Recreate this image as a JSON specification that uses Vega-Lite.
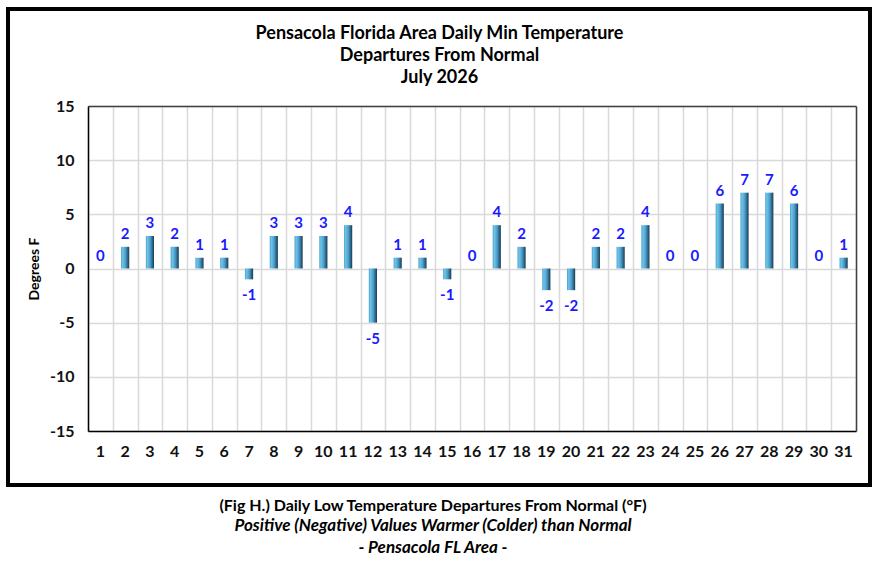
{
  "$schema": "https://vega.github.io/schema/vega-lite/v6.json",
  "description": "Pensacola daily min temperature departures, July 2026",
  "width": 862,
  "height": 476,
  "autosize": {"type": "none"},
  "padding": {"left": 8, "top": 9, "right": 11, "bottom": 80},
  "background": "white",

  "title": {
    "text": "(Fig H.) Daily Low Temperature Departures From Normal (°F)",
    "subtitle": ["Positive (Negative) Values Warmer (Colder) than Normal", "- Pensacola FL Area -"],
    "orient": "bottom",
    "anchor": "middle",
    "frame": "group",
    "offset": 13,
    "dx": -6,
    "font": "Lato",
    "fontSize": 16,
    "fontWeight": "bold",
    "color": "black",
    "subtitleFont": "Lato",
    "subtitleFontSize": 17,
    "subtitleFontWeight": "bold",
    "subtitleFontStyle": "italic",
    "subtitleColor": "black",
    "subtitlePadding": 4,
    "subtitleLineHeight": 22
  },

  "config": {
    "font": "Lato",
    "view": {"stroke": "black", "strokeWidth": 4},
    "axis": {
      "labelFont": "Lato",
      "labelFontSize": 16,
      "labelFontWeight": "bold",
      "labelColor": "#111111",
      "titleFont": "Lato",
      "titleColor": "black"
    }
  },

  "data": {
    "values": [
      {"day": 1, "value": 0}, {"day": 2, "value": 2}, {"day": 3, "value": 3},
      {"day": 4, "value": 2}, {"day": 5, "value": 1}, {"day": 6, "value": 1},
      {"day": 7, "value": -1}, {"day": 8, "value": 3}, {"day": 9, "value": 3},
      {"day": 10, "value": 3}, {"day": 11, "value": 4}, {"day": 12, "value": -5},
      {"day": 13, "value": 1}, {"day": 14, "value": 1}, {"day": 15, "value": -1},
      {"day": 16, "value": 0}, {"day": 17, "value": 4}, {"day": 18, "value": 2},
      {"day": 19, "value": -2}, {"day": 20, "value": -2}, {"day": 21, "value": 2},
      {"day": 22, "value": 2}, {"day": 23, "value": 4}, {"day": 24, "value": 0},
      {"day": 25, "value": 0}, {"day": 26, "value": 6}, {"day": 27, "value": 7},
      {"day": 28, "value": 7}, {"day": 29, "value": 6}, {"day": 30, "value": 0},
      {"day": 31, "value": 1}
    ]
  },

  "resolve": {"axis": {"x": "independent", "y": "independent"}},

  "layer": [
    {
      "mark": {
        "type": "bar",
        "width": {"band": 0.33},
        "color": {
          "gradient": "linear",
          "x1": 0, "x2": 1, "y1": 0, "y2": 0,
          "stops": [
            {"offset": 0, "color": "#4f9fc8"},
            {"offset": 0.2, "color": "#6ec4e8"},
            {"offset": 0.55, "color": "#4a9ccb"},
            {"offset": 0.8, "color": "#2b6688"},
            {"offset": 1, "color": "#1b3b50"}
          ]
        }
      },
      "encoding": {
        "x": {
          "field": "day",
          "type": "ordinal",
          "scale": {"range": [80, 848], "paddingInner": 0, "paddingOuter": 0},
          "axis": {
            "orient": "bottom",
            "offset": -54,
            "title": null,
            "grid": false,
            "ticks": false,
            "labelAngle": 0,
            "labelPadding": 12,
            "domainColor": "black",
            "domainWidth": 1.5
          }
        },
        "y": {
          "field": "value",
          "type": "quantitative",
          "scale": {"domain": [-15, 15], "range": [422, 97], "nice": false},
          "axis": {
            "orient": "left",
            "offset": -80,
            "values": [-15, -10, -5, 0, 5, 10, 15],
            "labelExpr": "'' + datum.value",
            "grid": true,
            "gridColor": "#d9d9d9",
            "gridWidth": 1.5,
            "ticks": false,
            "labelPadding": 14,
            "domainColor": "black",
            "domainWidth": 1.5,
            "title": "Degrees F",
            "titleFontSize": 14,
            "titleFontWeight": "bold",
            "titlePadding": 8
          }
        }
      }
    },
    {
      "transform": [{"filter": "datum.value >= 0"}],
      "mark": {
        "type": "text",
        "baseline": "bottom",
        "dy": -5,
        "font": "Lato",
        "fontSize": 15,
        "fontWeight": "bold",
        "color": "#1a1aff"
      },
      "encoding": {
        "x": {
          "field": "day",
          "type": "ordinal",
          "axis": {
            "orient": "top",
            "offset": -97,
            "labels": false,
            "ticks": false,
            "grid": true,
            "gridColor": "#d9d9d9",
            "gridWidth": 1.5,
            "tickBand": "extent",
            "domainColor": "#404040",
            "domainWidth": 1.5,
            "title": ["Pensacola Florida Area Daily Min Temperature", "Departures From Normal", "July 2026"],
            "titleFontSize": 18,
            "titleFontWeight": "bold",
            "titleLineHeight": 22,
            "titleX": 431,
            "titleAlign": "center",
            "titlePadding": 20
          }
        },
        "y": {
          "field": "value",
          "type": "quantitative",
          "axis": {
            "orient": "right",
            "offset": -14,
            "labels": false,
            "ticks": false,
            "grid": false,
            "domainColor": "#404040",
            "domainWidth": 1.5,
            "title": null
          }
        },
        "text": {"field": "value", "type": "nominal"}
      }
    },
    {
      "transform": [{"filter": "datum.value < 0"}],
      "mark": {
        "type": "text",
        "baseline": "top",
        "dy": 9,
        "font": "Lato",
        "fontSize": 15,
        "fontWeight": "bold",
        "color": "#1a1aff"
      },
      "encoding": {
        "x": {"field": "day", "type": "ordinal", "axis": null},
        "y": {"field": "value", "type": "quantitative", "axis": null},
        "text": {"field": "value", "type": "nominal"}
      }
    }
  ]
}
